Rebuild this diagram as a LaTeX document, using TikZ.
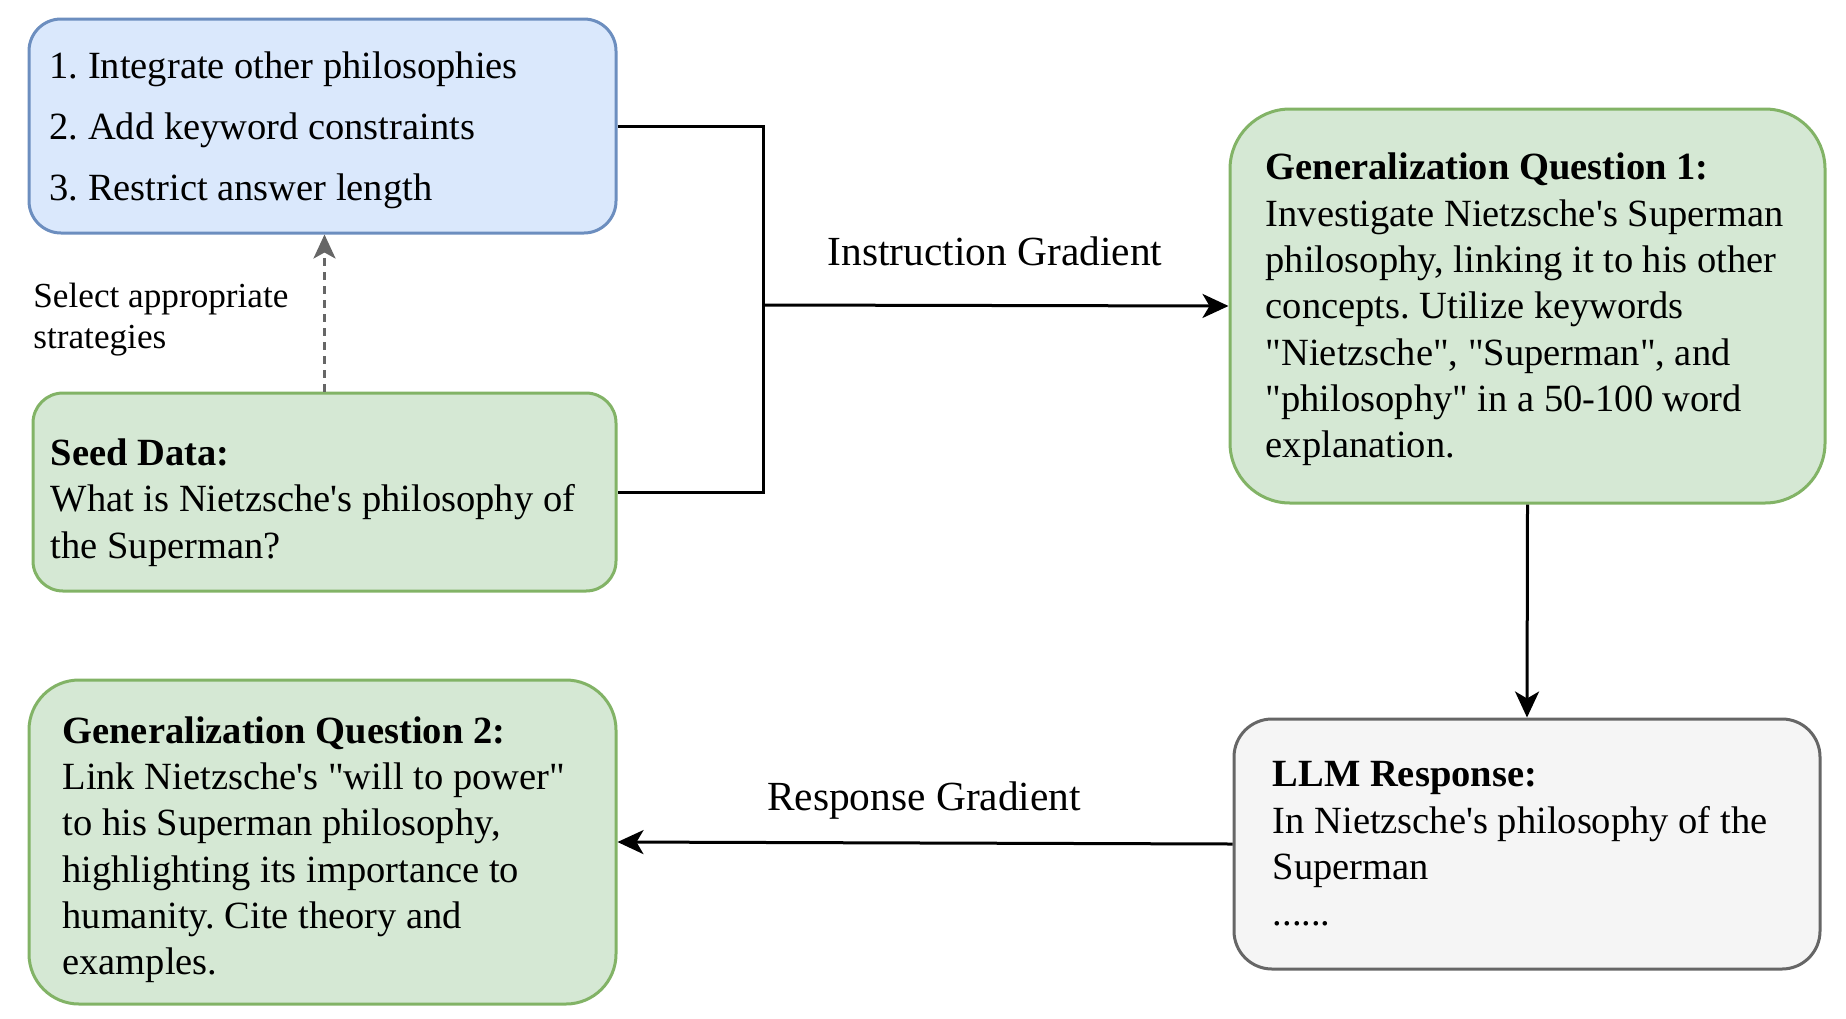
\documentclass[tikz,border=0pt]{standalone}
\usepackage{fontspec}
\setmainfont{Liberation Serif}[Ligatures=TeXOff]
\usetikzlibrary{arrows.meta,calc}
\definecolor{bluefill}{HTML}{DAE8FC}
\definecolor{bluedraw}{HTML}{6C8EBF}
\definecolor{greenfill}{HTML}{D5E8D4}
\definecolor{greendraw}{HTML}{82B366}
\definecolor{grayfill}{HTML}{F5F5F5}
\definecolor{graydraw}{HTML}{666666}
\tikzset{
  box/.style={draw, line width=1.5pt, inner sep=0pt, anchor=center},
  bluebox/.style={box, fill=bluefill, draw=bluedraw},
  greenbox/.style={box, fill=greenfill, draw=greendraw},
  graybox/.style={box, fill=grayfill, draw=graydraw},
  txt/.style={inner sep=0pt, align=left, anchor=west,
    font=\fontsize{19.25}{23.15}\selectfont},
  conn/.style={line width=1.5pt, black},
  arr/.style={conn, -{Stealth[length=13pt, width=12pt, inset=3.5pt]}},
  dasharr/.style={line width=1.5pt, graydraw, dash pattern=on 4pt off 3pt,
    -{Stealth[length=12pt, width=11pt, inset=3pt]}},
  lbl/.style={inner sep=0pt, font=\fontsize{20.7}{24}\selectfont},
  smalllbl/.style={inner sep=0pt, align=left, font=\fontsize{17.6}{20.5}\selectfont},
}
\frenchspacing
\begin{document}
\begin{tikzpicture}[x=0.5pt, y=-0.5pt]
\useasboundingbox (0,0) rectangle (1846,1018);

% boxes
\node[bluebox, rounded corners=16pt, minimum width=293.5pt, minimum height=107pt] (blue) at (322.5,126) {};
\node[greenbox, rounded corners=15pt, minimum width=291.5pt, minimum height=99pt] (seed) at (324.5,492) {};
\node[greenbox, rounded corners=30pt, minimum width=297.5pt, minimum height=197pt] (gq1) at (1527.5,306) {};
\node[graybox, rounded corners=19pt, minimum width=293pt, minimum height=125pt] (llm) at (1527,844) {};
\node[greenbox, rounded corners=25pt, minimum width=293.5pt, minimum height=162pt] (gq2) at (322.5,842) {};

% box texts
\node[txt, font=\fontsize{19.25}{30.5}\selectfont] (bluet) at ($(blue.west)+(21.7,4.7)$)
  {1. Integrate other philosophies\\2. Add keyword constraints\\3. Restrict answer length};
\node[txt] (seedt) at ($(seed.west)+(18.8,10.6)$)
  {\textbf{Seed Data:}\\What is Nietzsche's philosophy of\\the Superman?};
\node[txt] (gq1t) at ($(gq1.west)+(36.8,3.5)$)
  {\textbf{Generalization Question 1:}\\Investigate Nietzsche's Superman\\philosophy, linking it to his other\\concepts. Utilize keywords\\"Nietzsche", "Superman", and\\"philosophy" in a 50-100 word\\explanation.};
\node[txt] (llmt) at ($(llm.west)+(39.9,0)$)
  {\textbf{LLM Response:}\\In Nietzsche's philosophy of the\\Superman\\......};
\node[txt] (gq2t) at ($(gq2.west)+(34.6,7.6)$)
  {\textbf{Generalization Question 2:}\\Link Nietzsche's "will to power"\\to his Superman philosophy,\\highlighting its importance to\\humanity. Cite theory and\\examples.};

% labels
\node[smalllbl, anchor=west] (sel) at (33,320) {Select appropriate\\strategies};
\node[lbl] (ig) at (995,251) {Instruction Gradient};
\node[lbl] (rg) at (924,800.7) {Response Gradient};

% connectors
\coordinate (j) at (763,305);
\draw[conn] (blue.east) -| (j) |- (seed.east);
\draw[arr] (j) -- (gq1.west);
\draw[arr] (gq1.south) -- (llm.north);
\draw[arr] (llm.west) -- (gq2.east);
\draw[dasharr] (seed.north) -- (seed.north |- blue.south);
\end{tikzpicture}
\end{document}
